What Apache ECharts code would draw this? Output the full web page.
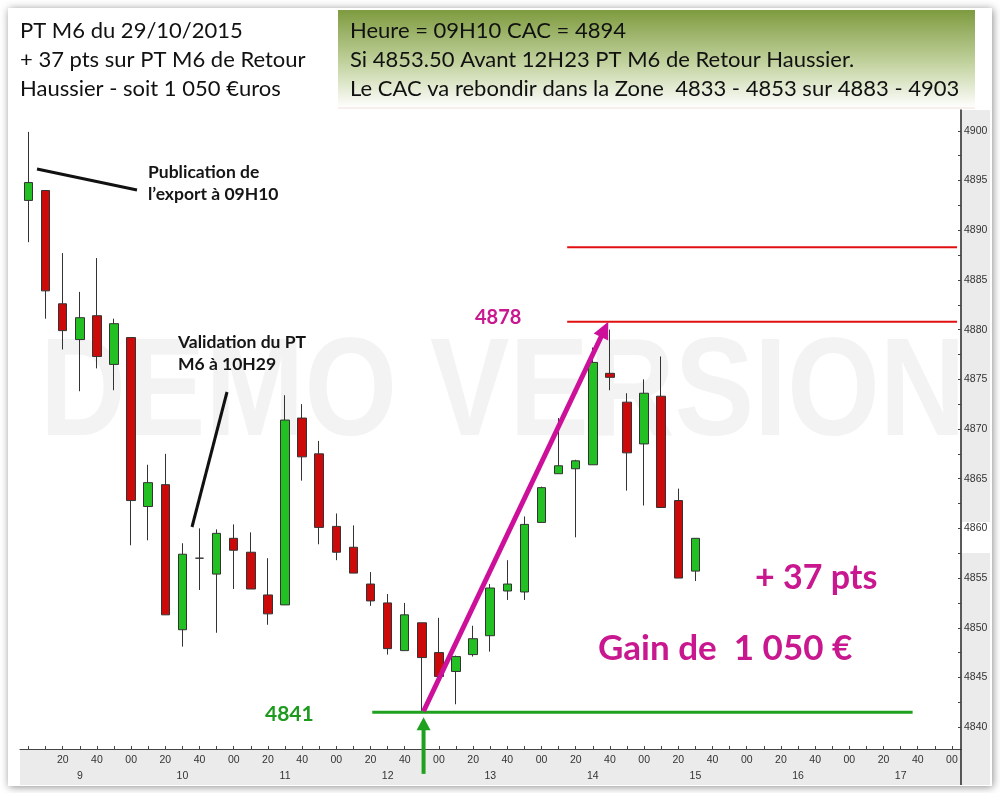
<!DOCTYPE html>
<html><head><meta charset="utf-8">
<script src="https://cdn.jsdelivr.net/npm/echarts@6/dist/echarts.min.js"></script>
<style>html,body{margin:0;padding:0;background:#fff}#c{width:1000px;height:793px}</style>
</head><body><div id="c"></div>
<script>
// ---- data (10-minute candles, CAC 40, 29/10/2015) ----
const times = ['09:00','09:10','09:20','09:30','09:40','09:50','10:00','10:10','10:20','10:30',
  '10:40','10:50','11:00','11:10','11:20','11:30','11:40','11:50','12:00','12:10',
  '12:20','12:30','12:40','12:50','13:00','13:10','13:20','13:30','13:40','13:50',
  '14:00','14:10','14:20','14:30','14:40','14:50','15:00','15:10','15:20','15:30'];
const openV  = [4893.0,4894.0,4882.6,4879.0,4881.4,4876.5,4879.2,4862.2,4864.4,4849.8,
  4857.0,4855.4,4859.0,4857.6,4853.3,4852.3,4871.1,4867.5,4860.2,4858.1,
  4854.4,4852.5,4847.7,4850.5,4847.5,4845.6,4847.3,4849.2,4853.7,4853.6,
  4860.6,4865.5,4866.0,4866.4,4875.6,4872.7,4868.5,4873.3,4862.8,4855.7];
const closeV = [4894.8,4883.9,4879.9,4881.2,4877.3,4880.6,4862.8,4864.6,4851.3,4857.4,
  4857.0,4859.5,4857.8,4853.9,4851.4,4870.9,4867.2,4860.1,4857.6,4855.5,
  4852.7,4847.9,4851.3,4847.0,4845.1,4847.1,4848.9,4854.0,4854.4,4860.4,
  4864.1,4866.3,4866.8,4876.7,4875.2,4867.6,4873.6,4862.1,4855.0,4859.0];
const lowV   = [4888.8,4881.1,4878.0,4873.8,4876.1,4873.9,4858.3,4858.8,4851.3,4848.1,
  4853.8,4849.5,4853.9,4853.9,4850.3,4852.3,4864.8,4858.4,4856.8,4855.5,
  4852.2,4847.3,4847.7,4841.5,4845.1,4842.3,4847.1,4847.6,4852.8,4852.8,
  4860.6,4865.5,4859.1,4866.4,4873.9,4863.8,4862.3,4862.1,4855.0,4854.7];
const highV  = [4899.9,4894.0,4887.7,4883.8,4887.2,4881.1,4879.2,4866.4,4867.5,4858.5,
  4860.0,4859.9,4860.4,4859.6,4857.0,4873.4,4872.5,4868.8,4861.5,4860.3,
  4855.6,4853.4,4852.5,4850.5,4851.0,4847.2,4850.2,4854.4,4856.8,4861.2,
  4864.2,4871.1,4866.9,4878.2,4880.0,4873.6,4875.0,4877.3,4864.0,4859.0];

// axis ticks / labels
const yLabelValues = [4840,4845,4850,4855,4860,4865,4870,4875,4880,4885,4890,4895,4900];
const yTickValues = [4837.5,4840,4842.5,4845,4847.5,4850,4852.5,4855,4857.5,4860,4862.5,4865,4867.5,
  4870,4872.5,4875,4877.5,4880,4882.5,4885,4887.5,4890,4892.5,4895,4897.5,4900];
const xLabelTimes = ['09:20','09:40','10:00','10:20','10:40','11:00','11:20','11:40','12:00','12:20','12:40',
  '13:00','13:20','13:40','14:00','14:20','14:40','15:00','15:20','15:40','16:00','16:20','16:40',
  '17:00','17:20','17:40','18:00'];
const hourLabelTimes = ['09:30','10:30','11:30','12:30','13:30','14:30','15:30','16:30','17:30'];

// annotation levels
const redLevels = [4888.3, 4880.8];
const redFrom = '14:15', redTo = '18:03';
const greenLevel = 4841.5;
const greenFrom = '12:21', greenTo = '17:37';
const arrowFrom = ['12:51', 4841.6], arrowTo = ['14:39', 4880.8];
const upArrowTime = '12:51', upArrowFromV = 4835.7, upArrowToV = 4841.0;

function toMin(t){ const p = t.split(':'); return (+p[0])*60 + (+p[1]); }
const X_MIN = 535, X_MAX = 1085.3;
const candleData = times.map((t,i)=>[toMin(t), openV[i], closeV[i], lowV[i], highV[i]]);

const MAG = '#c8178f', GRN = '#1e9a1e';
const chart = echarts.init(document.getElementById('c'));
chart.setOption({
  animation:false,
  backgroundColor:'#ffffff',
  grid:{left:20,right:39,top:110,bottom:44},
  xAxis:[{
    type:'value', min:X_MIN, max:X_MAX, position:'bottom',
    axisLine:{show:true,lineStyle:{color:'#444',width:1}},
    axisTick:{show:true,inside:true,length:3,lineStyle:{color:'#444'},
      customValues: (function(){const a=[];for(let m=540;m<=1080;m+=10)a.push(m);return a;})()},
    axisLabel:{customValues:xLabelTimes.map(toMin),color:'#333',fontSize:10.5,
      fontFamily:'"Liberation Sans",Arial',margin:6,
      formatter:v=>{const m=Math.round(v)%60;return m===0?'00':String(m);}},
    splitLine:{show:false}
  },{
    type:'value', min:X_MIN, max:X_MAX, position:'bottom', offset:16,
    axisLine:{show:false}, axisTick:{show:false},
    axisLabel:{customValues:hourLabelTimes.map(toMin),color:'#333',fontSize:10.5,
      fontFamily:'"Liberation Sans",Arial',margin:6,
      formatter:v=>String(Math.floor(v/60))},
    splitLine:{show:false}
  }],
  yAxis:{
    type:'value', position:'right', min:4837.8, max:4902.1, scale:true,
    axisLine:{show:true,lineStyle:{color:'#222',width:1.5}},
    axisTick:{show:true,inside:true,length:3,customValues:yTickValues,lineStyle:{color:'#444'}},
    axisLabel:{customValues:yLabelValues,color:'#333',fontSize:10.5,margin:3,
      fontFamily:'"Liberation Sans",Arial',formatter:v=>String(Math.round(v))},
    splitLine:{show:false}
  },
  series:[{
    type:'candlestick', xAxisIndex:0, yAxisIndex:0,
    encode:{x:0,y:[1,2,3,4]},
    data:candleData, barWidth:9,
    itemStyle:{color:'#22c022',color0:'#cc0a0a',borderColor:'#333',borderColor0:'#333',borderWidth:1},
    z:5
  }]
});

function px(t,v){ return chart.convertToPixel({xAxisIndex:0,yAxisIndex:0},[toMin(t),v]); }

const g = [];
// frame & panels
g.push({type:'rect',z:-100,shape:{x:8,y:8,width:984,height:778},
  style:{fill:'#fff',shadowBlur:8,shadowColor:'rgba(0,0,0,0.45)',shadowOffsetX:1,shadowOffsetY:1}});
g.push({type:'rect',z:-40,shape:{x:20,y:750,width:941,height:35},style:{fill:'#ebebeb'}});
g.push({type:'rect',z:-40,shape:{x:962,y:110,width:28,height:675},style:{fill:'#ebebeb'}});
g.push({type:'rect',z:-39,shape:{x:962,y:522,width:28,height:31},style:{fill:'#ffffff'}});
g.push({type:'line',z:10,shape:{x1:961,y1:749,x2:961,y2:785},style:{stroke:'#222',lineWidth:1.5}});
// watermark
g.push({type:'text',z:-30,x:40,y:396,scaleX:0.85,
  style:{text:'DEMO VERSION',x:0,y:0,verticalAlign:'middle',
    font:'bold 140px "Liberation Sans", Arial',fill:'#f3f3f3'}});
// header boxes
g.push({type:'rect',z:50,shape:{x:10,y:10,width:328,height:98},style:{fill:'#ffffff'}});
g.push({type:'rect',z:50,shape:{x:338,y:10,width:637,height:98},style:{fill:{
  type:'linear',x:0,y:0,x2:0,y2:1,colorStops:[{offset:0,color:'#7e9b3f'},{offset:0.55,color:'#c3d3a0'},{offset:1,color:'#ffffff'}]}}});
g.push({type:'line',z:51,shape:{x1:338,y1:108,x2:975,y2:108},style:{stroke:'#f4dede',lineWidth:1}});
const leftLines = ['PT M6 du 29/10/2015','+ 37 pts sur PT M6 de Retour','Haussier - soit 1 050 €uros'];
const rightLines = ['Heure = 09H10 CAC = 4894','Si 4853.50 Avant 12H23 PT M6 de Retour Haussier.',
  'Le CAC va rebondir dans la Zone  4833 - 4853 sur 4883 - 4903'];
leftLines.forEach((s,i)=>g.push({type:'text',z:52,style:{text:s,x:20,y:31+i*29,verticalAlign:'middle',
  font:'22px Lato, "Open Sans", sans-serif',fill:'#111'}}));
rightLines.forEach((s,i)=>g.push({type:'text',z:52,style:{text:s,x:350,y:31+i*29,verticalAlign:'middle',
  font:'22px Lato, "Open Sans", sans-serif',fill:'#111'}}));

// horizontal levels
redLevels.forEach(v=>{const a=px(redFrom,v),b=px(redTo,v);
  g.push({type:'line',z:20,shape:{x1:a[0],y1:a[1],x2:b[0],y2:b[1]},style:{stroke:'#e01010',lineWidth:2}});});
{const a=px(greenFrom,greenLevel),b=px(greenTo,greenLevel);
  g.push({type:'line',z:20,shape:{x1:a[0],y1:a[1],x2:b[0],y2:b[1]},style:{stroke:'#1fa01f',lineWidth:3}});}
// magenta arrow
{const a=px(arrowFrom[0],arrowFrom[1]),b=px(arrowTo[0],arrowTo[1]);
 const dx=b[0]-a[0],dy=b[1]-a[1],L=Math.hypot(dx,dy),ux=dx/L,uy=dy/L,hl=17,hw=8;
 const bx=b[0]-ux*hl,by=b[1]-uy*hl;
 g.push({type:'line',z:21,shape:{x1:a[0],y1:a[1],x2:bx+ux*2,y2:by+uy*2},style:{stroke:'#cc109a',lineWidth:5}});
 g.push({type:'polygon',z:21,shape:{points:[[b[0],b[1]],[bx-uy*hw,by+ux*hw],[bx+uy*hw,by-ux*hw]]},style:{fill:'#cc109a'}});}
// green up arrow
{const a=px(upArrowTime,upArrowFromV),b=px(upArrowTime,upArrowToV);
 g.push({type:'line',z:21,shape:{x1:a[0],y1:a[1]+4,x2:b[0],y2:b[1]+10},style:{stroke:'#1fa01f',lineWidth:4}});
 g.push({type:'polygon',z:21,shape:{points:[[b[0],b[1]],[b[0]-7,b[1]+13],[b[0]+7,b[1]+13]]},style:{fill:'#1fa01f'}});}
// pointer lines
g.push({type:'line',z:21,shape:{x1:37,y1:169,x2:137,y2:190},style:{stroke:'#111',lineWidth:3}});
g.push({type:'line',z:21,shape:{x1:227,y1:392,x2:192,y2:527},style:{stroke:'#111',lineWidth:3}});
// annotation texts
const tf = (s,x,y,font,fill)=>g.push({type:'text',z:30,style:{text:s,x:x,y:y,verticalAlign:'middle',font:font,fill:fill}});
tf('Publication de',148,172,'bold 17.5px Lato, sans-serif','#151515');
tf('l’export à 09H10',148,194,'bold 17.5px Lato, sans-serif','#151515');
tf('Validation du PT',178,342,'bold 17.5px Lato, sans-serif','#151515');
tf('M6 à 10H29',178,364,'bold 17.5px Lato, sans-serif','#151515');
tf('4878',475,318,'bold 20px Lato, sans-serif',MAG);
tf('4841',265,714,'bold 21px Lato, sans-serif',GRN);
tf('+ 37 pts',755,578,'bold 34px Lato, sans-serif',MAG);
tf('Gain de  1 050 €',598,649,'bold 35px Lato, sans-serif',MAG);

chart.setOption({graphic:{elements:g}});
</script></body></html>
